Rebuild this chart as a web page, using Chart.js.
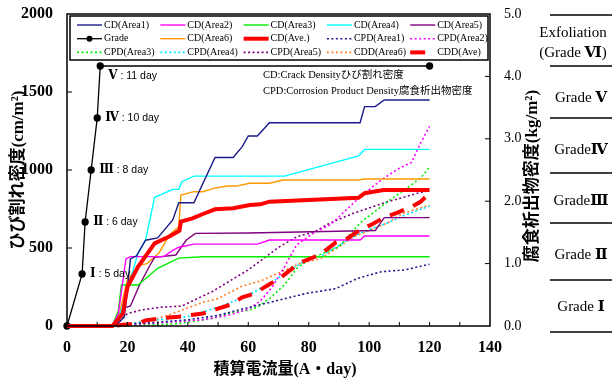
<!DOCTYPE html>
<html>
<head>
<meta charset="utf-8">
<script src="https://cdn.jsdelivr.net/npm/chart.js@4"></script>
<style>
  html, body { margin: 0; padding: 0; background: #fff; }
  canvas { display: block; }
</style>
</head>
<body>
<canvas id="grafico" width="612" height="383"></canvas>
<script>
// dados: [corrente acumulada (A·day), valor]
const cdArea1 = [[0,0],[16,0],[19,60],[21,430],[23,450],[26,550],[30,565],[35,680],[37,790],[42,790],[49,1080],[55,1080],[58,1150],[60,1218],[63,1218],[67,1303],[97,1303],[98.5,1406],[102,1406],[105,1449],[120,1449]];
const cdArea2 = [[0,0],[15,0],[17,80],[19.5,430],[21,445],[32,445],[35,485],[37,505],[42,525],[63,525],[67,551],[97,551],[98.5,577],[120,577]];
const cdArea3 = [[0,0],[15,0],[17,100],[18,263],[23.5,263],[30,370],[37,435],[45,444],[120,444]];
const cdArea4 = [[0,0],[15,0],[17,40],[21,300],[23.5,466],[26,550],[29,825],[35,876],[37,876],[38,925],[42,961],[72,961],[96.5,1090],[98.5,1132],[120,1132]];
const cdArea5 = [[0,0],[15,0],[17,40],[18.5,113],[21,128],[24,263],[27.5,391],[29,440],[36,455],[39.5,551],[42.5,594],[60,596],[102,612],[105,695],[120,695]];
const cdArea6 = [[0,0],[15,0],[17,50],[20,300],[24,391],[26.5,400],[30.5,470],[34,585],[37,637],[37.7,840],[42,861],[45,861],[48.5,882],[53,897],[56,897],[60.5,915],[67,915],[71.5,936],[96.5,936],[98.5,942],[120,942]];
const cdAve = [[0,0],[15,0],[18.5,80],[20,250],[23.5,380],[29,530],[34,575],[37.2,610],[37.7,669],[41.5,690],[45,718],[49,748],[55,755],[60.5,776],[64,780],[67,797],[96.5,822],[98.5,851],[104.8,872],[120,872]];
const grade = [[0,0],[5,333.3],[6,666.7],[8,1000],[10,1333.3],[11,1666.7],[120,1666.7]];

const cpdArea1 = [[0,0],[15,0],[20,0.03],[30,0.06],[40,0.1],[50,0.17],[57,0.26],[68,0.39],[79,0.52],[89,0.6],[96,0.76],[104,0.87],[112,0.9],[120,0.99]];
const cpdArea2 = [[0,0],[15,0],[20,0.02],[30,0.05],[45,0.1],[54,0.18],[60,0.27],[64,0.4],[68,0.63],[72,0.95],[76,1.3],[82,1.5],[87,1.62],[90,1.75],[97,2.07],[104,2.34],[110,2.53],[114,2.62],[117,2.93],[120,3.2]];
const cpdArea3 = [[0,0],[15,0],[20,0.01],[30,0.02],[37,0.04],[48,0.12],[55,0.22],[60,0.25],[63,0.3],[67,0.44],[72,0.66],[76,0.92],[80.5,1.08],[90,1.27],[97,1.65],[106,1.99],[112.5,2.21],[117,2.37],[120,2.55]];
const cpdArea4 = [[0,0],[15,0],[20,0.03],[30,0.1],[40,0.15],[50,0.3],[60,0.49],[68,0.71],[74,0.9],[79,1.05],[84,1.12],[97,1.49],[106,1.65],[112,1.78],[120,1.92]];
const cpdArea5 = [[0,0],[15,0],[17,0.05],[20,0.2],[25,0.26],[31,0.3],[38,0.32],[48,0.55],[60,0.9],[70,1.26],[76,1.43],[82,1.51],[87,1.65],[95,1.81],[106,1.99],[117,2.14],[120,2.17]];
const cddArea6 = [[0,0],[15,0],[20,0.03],[30,0.12],[35,0.2],[45,0.38],[50,0.44],[58,0.64],[64,0.72],[70,0.85],[77,1.0],[84,1.08],[95,1.43],[106,1.65],[111,1.8],[120,1.94]];
const cddAve = [[0,0],[15,0],[18.5,0.02],[23.5,0.04],[26,0.09],[32,0.13],[37,0.15],[45,0.2],[50,0.28],[54,0.34],[58,0.46],[62,0.52],[67,0.67],[70,0.75],[74,0.9],[77,1.01],[82,1.11],[85,1.19],[89,1.34],[93,1.41],[97,1.54],[101,1.63],[105,1.74],[109,1.81],[114,1.91],[117,1.99],[120,2.13]];

const gradeNumerais = ['Ⅰ', 'Ⅱ', 'Ⅲ', 'Ⅳ', 'Ⅴ'];
const gradeDias = ['5 day', '6 day', '8 day', '10 day', '11 day'];
const faixasGrade = [['Exfoliation', '(Grade ', 'Ⅵ', ')'], ['Grade ', 'Ⅴ'], ['Grade', 'Ⅳ'], ['Grade', 'Ⅲ'], ['Grade ', 'Ⅱ'], ['Grade ', 'Ⅰ']];

const SERIF = "'Liberation Serif', 'DejaVu Serif', 'Noto Sans CJK JP', serif";
const SANS = "'Liberation Sans', 'Noto Sans CJK JP', sans-serif";

const pontos = (arr) => arr.map(([x, y]) => ({ x, y }));

const serie = (label, dados, cor, eixo, extra) => Object.assign({
    label,
    data: pontos(dados),
    borderColor: cor,
    backgroundColor: cor,
    borderWidth: 1.4,
    pointRadius: 0,
    tension: 0,
    yAxisID: eixo,
    clip: false,
    order: 5
}, extra || {});

const pontilhado = { borderDash: [2, 2.5], borderWidth: 1.6 };

const datasets = [
    serie('CD(Area1)', cdArea1, '#1a1a8a', 'y'),
    serie('CD(Area2)', cdArea2, '#ff00ff', 'y'),
    serie('CD(Area3)', cdArea3, '#00ee00', 'y'),
    serie('CD(Area4)', cdArea4, '#00ffff', 'y'),
    serie('CD(Area5)', cdArea5, '#800080', 'y'),
    serie('Grade', grade, '#000000', 'y', { pointRadius: 3, pointBackgroundColor: '#000', borderWidth: 1.3, order: 3 }),
    serie('CD(Area6)', cdArea6, '#ff9900', 'y'),
    serie('CD(Ave.)', cdAve, '#ff0000', 'y', { borderWidth: 4, order: 1 }),
    serie('CPD(Area1)', cpdArea1, '#1a1a8a', 'y1', pontilhado),
    serie('CPD(Area2)', cpdArea2, '#ff00ff', 'y1', pontilhado),
    serie('CPD(Area3)', cpdArea3, '#00ee00', 'y1', pontilhado),
    serie('CPD(Area4)', cpdArea4, '#00e5ff', 'y1', pontilhado),
    serie('CPD(Area5)', cpdArea5, '#800080', 'y1', pontilhado),
    serie('CDD(Area6)', cddArea6, '#ff7f27', 'y1', pontilhado),
    serie('CDD(Ave)', cddAve, '#ff0000', 'y1', { borderWidth: 4, borderDash: [15, 10], order: 0 })
];

const linha = (ctx, x1, y1, x2, y2) => {
    ctx.beginPath();
    ctx.moveTo(x1, y1);
    ctx.lineTo(x2, y2);
    ctx.stroke();
};

const decoracao = {
    id: 'decoracao',
    beforeDraw(chart) {
        const ctx = chart.ctx;
        ctx.save();
        ctx.fillStyle = '#fff';
        ctx.fillRect(0, 0, chart.width, chart.height);
        ctx.restore();
    },
    afterDraw(chart) {
        const { ctx, chartArea: a, scales } = chart;
        ctx.save();
        ctx.strokeStyle = '#000';
        ctx.fillStyle = '#000';

        // moldura e marcas internas
        ctx.lineWidth = 1.5;
        ctx.strokeRect(a.left, a.top, a.right - a.left, a.bottom - a.top);
        ctx.lineWidth = 1;
        for (let v = 10; v < 140; v += 10) {
            const px = scales.x.getPixelForValue(v);
            linha(ctx, px, a.bottom, px, a.bottom - 4);
        }
        for (let v = 500; v < 2000; v += 500) {
            const py = scales.y.getPixelForValue(v);
            linha(ctx, a.left, py, a.left + 5, py);
        }
        for (let v = 1; v < 5; v += 1) {
            const py = scales.y1.getPixelForValue(v);
            linha(ctx, a.right, py, a.right - 5, py);
        }

        // titulos dos eixos
        ctx.textBaseline = 'middle';
        ctx.textAlign = 'center';
        ctx.font = 'bold 16px ' + SERIF;
        ctx.fillText('積算電流量(A・day)', 285, 370);
        ctx.font = 'bold 17px ' + SERIF;
        ctx.save();
        ctx.translate(19, 170);
        ctx.rotate(-Math.PI / 2);
        ctx.fillText('ひび割れ密度(cm/m²)', 0, 0);
        ctx.restore();
        ctx.save();
        ctx.translate(533, 176);
        ctx.rotate(-Math.PI / 2);
        ctx.fillText('腐食析出物密度(kg/m²)', 0, 0);
        ctx.restore();

        // rotulos da serie Grade
        ctx.textAlign = 'left';
        const meta = chart.getDatasetMeta(5);
        gradeNumerais.forEach((num, i) => {
            const p = meta.data[i + 1];
            const x = p.x + 8;
            const y = i === 4 ? p.y + 10 : p.y;
            ctx.font = 'bold 12px ' + SERIF;
            ctx.fillText(num, x, y);
            const w = ctx.measureText(num).width;
            ctx.font = '10.5px ' + SANS;
            ctx.fillText(' : ' + gradeDias[i], x + w, y);
        });

        // notas
        ctx.font = '10.5px ' + SERIF;
        ctx.fillText('CD:Crack Densityひび割れ密度', 263, 75);
        ctx.fillText('CPD:Corrosion Product Density腐食析出物密度', 263, 91);

        // legenda
        ctx.fillStyle = '#fff';
        ctx.fillRect(70, 16, 418, 44);
        ctx.lineWidth = 1.5;
        ctx.strokeRect(70, 16, 418, 44);
        ctx.font = '10px ' + SERIF;
        chart.data.datasets.forEach((ds, i) => {
            const x0 = 77 + (i % 5) * 83.3;
            const y = 25 + Math.floor(i / 5) * 13.7;
            ctx.strokeStyle = ds.borderColor;
            ctx.lineWidth = ds.borderWidth;
            ctx.setLineDash(ds.borderDash || []);
            linha(ctx, x0, y, x0 + 25, y);
            ctx.setLineDash([]);
            if (ds.pointRadius) {
                ctx.fillStyle = ds.borderColor;
                ctx.beginPath();
                ctx.arc(x0 + 12.5, y, 3, 0, Math.PI * 2);
                ctx.fill();
            }
            ctx.fillStyle = '#000';
            ctx.fillText(ds.label, x0 + 27, y);
        });

        // tabela de grades a direita
        ctx.strokeStyle = '#000';
        ctx.lineWidth = 1.3;
        const ys = [15, 66, 118, 173, 223, 280, 332];
        ys.forEach((y) => linha(ctx, 550, y, 612, y));
        ctx.textAlign = 'left';
        const escreve = (partes, cx, cy) => {
            const fontes = partes.map((p) => /[Ⅰ-Ⅵ]/.test(p) ? 'bold 15px ' + SERIF : '15px ' + SERIF);
            let total = 0;
            partes.forEach((p, k) => { ctx.font = fontes[k]; total += ctx.measureText(p).width; });
            let x = cx - total / 2;
            partes.forEach((p, k) => { ctx.font = fontes[k]; ctx.fillText(p, x, cy); x += ctx.measureText(p).width; });
        };
        escreve([faixasGrade[0][0]], 573, 33);
        escreve(faixasGrade[0].slice(1), 573, 53);
        const centros = [98, 150, 201, 255, 307];
        faixasGrade.slice(1).forEach((f, i) => escreve(f, 581, centros[i]));

        ctx.restore();
    }
};

new Chart(document.getElementById('grafico').getContext('2d'), {
    type: 'line',
    data: { datasets },
    options: {
        responsive: false,
        animation: false,
        devicePixelRatio: 1,
        layout: { padding: 0 },
        plugins: { legend: { display: false }, tooltip: { enabled: false } },
        scales: {
            x: {
                type: 'linear',
                min: 0,
                max: 140,
                afterFit: (s) => { s.height = 57; },
                grid: { display: false, drawTicks: false },
                border: { display: false },
                ticks: { stepSize: 20, padding: 12, color: '#000', font: { family: SERIF, size: 16, weight: 'bold' } }
            },
            y: {
                position: 'left',
                min: 0,
                max: 2000,
                afterFit: (s) => { s.width = 67; },
                grid: { display: false, drawTicks: false },
                border: { display: false },
                ticks: { stepSize: 500, padding: 14, color: '#000', font: { family: SERIF, size: 16, weight: 'bold', lineHeight: 0.001 }, callback: (v) => String(v) }
            },
            y1: {
                position: 'right',
                min: 0,
                max: 5,
                afterFit: (s) => { s.width = 122; },
                grid: { display: false, drawTicks: false },
                border: { display: false },
                ticks: { stepSize: 1, padding: 14, color: '#000', font: { family: SERIF, size: 14, lineHeight: 0.001 }, callback: (v) => v.toFixed(1) }
            }
        }
    },
    plugins: [decoracao]
});
</script>
</body>
</html>
